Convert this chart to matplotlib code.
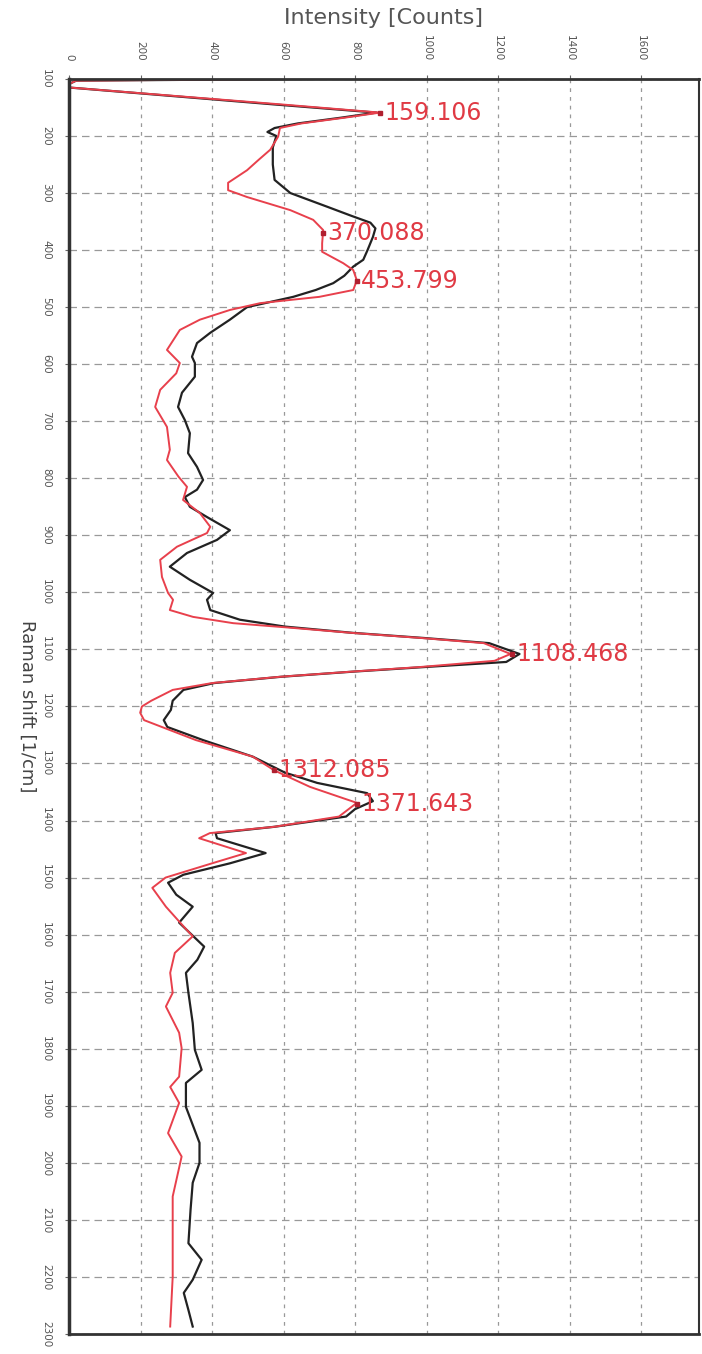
import matplotlib
matplotlib.use('Agg')
import matplotlib.pyplot as plt

# Raman shift [1/cm] and intensity [counts] for the two spectra
black_shift = [100, 103, 109, 115, 130, 145, 159, 168, 178, 186, 193, 200, 210, 220, 250, 277,
               300, 324, 340, 352, 362, 377, 400, 417, 429, 445, 458, 470, 482, 500, 522, 545,
               563, 587, 598, 622, 650, 675, 698, 721, 756, 780, 803, 820, 833, 850, 868, 891,
               908, 931, 955, 978, 1001, 1013, 1031, 1048, 1060, 1071, 1080, 1089, 1108, 1122,
               1131, 1139, 1148, 1159, 1171, 1190, 1206, 1224, 1236, 1259, 1288, 1316, 1334,
               1352, 1366, 1380, 1393, 1411, 1422, 1431, 1457, 1475, 1495, 1509, 1530, 1551,
               1579, 1621, 1644, 1667, 1702, 1755, 1802, 1837, 1860, 1902, 1965, 2000, 2035,
               2082, 2141, 2170, 2205, 2228, 2258, 2287]
black_int = [680, 20, 0, 0, 290, 580, 860, 760, 640, 575, 555, 580, 575, 570, 570, 575,
             619, 722, 790, 843, 857, 850, 835, 823, 795, 770, 739, 690, 627, 498, 450, 395,
             358, 344, 352, 352, 316, 305, 324, 338, 333, 358, 375, 358, 324, 338, 386, 450,
             414, 330, 282, 338, 403, 386, 395, 478, 604, 794, 993, 1175, 1260, 1223,
             993, 794, 593, 406, 320, 290, 285, 265, 275, 375, 514, 604, 694,
             834, 850, 800, 775, 574, 410, 414, 550, 450, 320, 277, 300, 346,
             308, 378, 359, 327, 334, 346, 352, 371, 327, 327, 365, 365, 346,
             340, 334, 371, 346, 321, 334, 346]

red_shift = [100, 103, 109, 115, 130, 145, 159, 168, 178, 186, 201, 224, 242, 260, 282, 295,
             307, 330, 347, 365, 388, 403, 423, 435, 453, 470, 482, 493, 505, 522, 540, 575,
             598, 616, 645, 675, 710, 750, 768, 797, 815, 838, 861, 885, 896, 920, 943, 973,
             1001, 1013, 1031, 1043, 1054, 1062, 1071, 1080, 1089, 1108, 1120, 1131, 1139,
             1148, 1159, 1171, 1190, 1200, 1211, 1224, 1259, 1288, 1312, 1341, 1369, 1393,
             1411, 1422, 1431, 1457, 1475, 1500, 1518, 1551, 1586, 1603, 1632, 1667, 1702,
             1726, 1772, 1799, 1849, 1867, 1895, 1948, 1989, 2059, 2141, 2200, 2287]
red_int = [640, 20, 0, 0, 300, 600, 870, 770, 650, 590, 585, 563, 530, 498, 445, 445,
           498, 619, 683, 711, 708, 708, 767, 795, 805, 795, 700, 535, 450, 366, 310, 274,
           310, 300, 255, 241, 274, 282, 274, 306, 330, 319, 366, 395, 386, 302, 255, 260,
           277, 291, 282, 347, 459, 620, 790, 985, 1160, 1235, 1190, 980, 790,
           590, 400, 290, 230, 204, 199, 210, 355, 514, 574, 674, 805, 755,
           574, 394, 364, 495, 400, 270, 233, 271, 321, 346, 296, 283, 290,
           271, 308, 315, 308, 283, 308, 277, 315, 290, 290, 290, 283]

peak_labels = ['159.106', '370.088', '453.799', '1108.468', '1312.085', '1371.643']
peak_shift = [159.106, 370.088, 453.799, 1108.468, 1312.085, 1371.643]
peak_int = [870, 711, 805, 1240, 574, 805]

x_ticks = list(range(0, 1601, 200))
y_ticks = list(range(100, 2301, 100))

fig = plt.figure(figsize=(7.02, 13.54), dpi=100)
ax = fig.add_axes([0.0983, 0.0148, 0.8974, 0.9269])

ax.plot(black_int, black_shift, color='#222222', lw=1.6)
ax.plot(red_int, red_shift, color='#e8404c', lw=1.4)

for lab, s, i in zip(peak_labels, peak_shift, peak_int):
    ax.plot(i, s, marker='s', ms=3, color='#b02030')
    ax.annotate(lab, (i, s), xytext=(3, 0), textcoords='offset points',
                ha='left', va='center', fontsize=17, color='#e03a44')

ax.set_xlim(0, 1762)
ax.set_ylim(2300, 100)
ax.xaxis.tick_top()
ax.xaxis.set_label_position('top')
ax.set_xticks(x_ticks)
ax.set_yticks(y_ticks)
ax.set_xticklabels([str(v) for v in x_ticks], rotation=-90, fontsize=7.5, color='#555555')
ax.set_yticklabels([str(v) for v in y_ticks], rotation=-90, fontsize=7.5, color='#555555',
                   va='center')
ax.tick_params(axis='x', pad=10, length=3, color='#666666')
ax.tick_params(axis='y', pad=10, length=3, color='#666666')

ax.set_xlabel('Intensity [Counts]', fontsize=16, color='#555555', labelpad=8)
ax.set_ylabel('Raman shift [1/cm]', fontsize=13, color='#444444', rotation=-90,
              labelpad=16, va='bottom')

ax.xaxis.grid(True, color='#999999', linestyle=(0, (3, 4)), lw=0.9)
ax.yaxis.grid(True, color='#999999', linestyle=(0, (6, 4)), lw=0.9)

for side, w in [('left', 2.5), ('top', 2.0), ('bottom', 2.0), ('right', 1.5)]:
    ax.spines[side].set_linewidth(w)
    ax.spines[side].set_color('#333333')

plt.savefig('out.png', dpi=100)
